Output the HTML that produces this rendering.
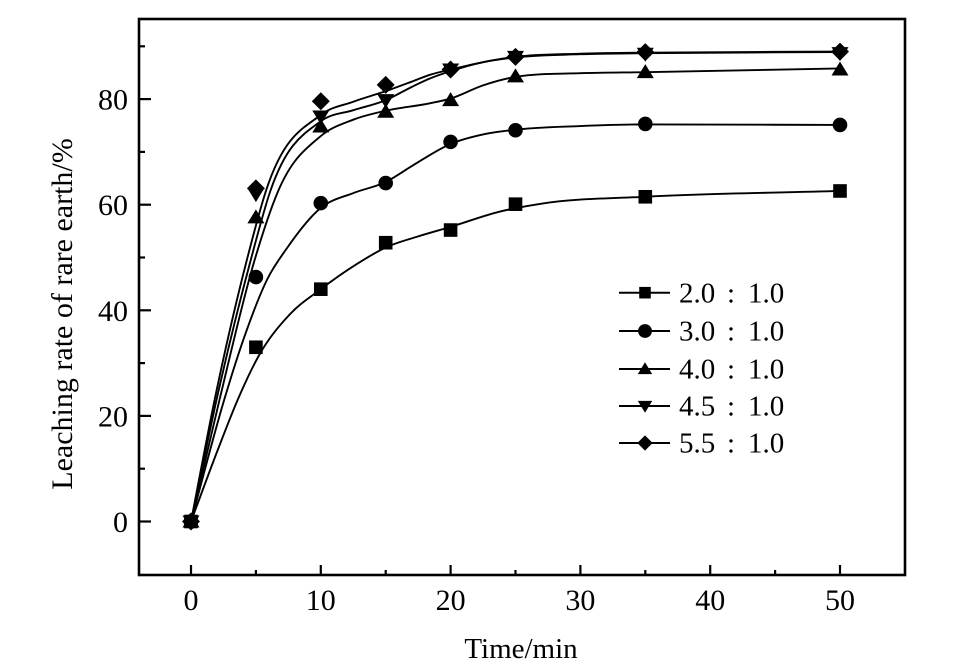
<!DOCTYPE html>
<html><head><meta charset="utf-8"><style>html,body{margin:0;padding:0;background:#fff}svg{display:block}</style></head>
<body>
<svg id="s" width="967" height="667" viewBox="0 0 967 667" xmlns="http://www.w3.org/2000/svg" font-family="'Liberation Serif', 'Times New Roman', serif">
<rect width="967" height="667" fill="#fff"/>
<g id="ticks" stroke="#000" stroke-width="2.2"></g>
<g id="labels" font-size="30" fill="#000"></g>
<text x="521" y="658" font-size="29" text-anchor="middle" fill="#000">Time/min</text>
<text transform="translate(72,314) rotate(-90)" font-size="30" text-anchor="middle" fill="#000">Leaching rate of rare earth/%</text>
<g id="curves" fill="none" stroke="#000" stroke-width="1.9" stroke-linejoin="round"></g>
<g id="marks" fill="#000"></g>
<rect x="139" y="19" width="766" height="556" fill="none" stroke="#000" stroke-width="2.6"/>
<g id="legend" font-size="29" fill="#000"></g>
</svg>
<script>
(function(){
var NS="http://www.w3.org/2000/svg";
function X(x){return 191+x*12.98;}
function Y(v){return 521.5-v*5.28;}
function el(tag,attrs,parent,txt){var e=document.createElementNS(NS,tag);for(var k in attrs)e.setAttribute(k,attrs[k]);if(txt!==undefined)e.textContent=txt;parent.appendChild(e);return e;}
var ticks=document.getElementById('ticks'),labels=document.getElementById('labels');
for(var v=0;v<=90;v+=10){var y=Y(v);var major=(v%20===0);el('line',{x1:139,y1:y,x2:major?151:145,y2:y},ticks);
 if(major){el('text',{x:128,y:y+10.5,'text-anchor':'end'},labels,String(v));}}
for(var t=0;t<=50;t+=5){var x=X(t);var major=(t%10===0);el('line',{x1:x,y1:575,x2:x,y2:major?565:570},ticks);
 if(major){el('text',{x:x,y:610,'text-anchor':'middle'},labels,String(t));}}
function herm(pts){
 var n=pts.length,h=[],d=[],m=[];
 for(var i=0;i<n-1;i++){h[i]=pts[i+1][0]-pts[i][0];d[i]=(pts[i+1][1]-pts[i][1])/h[i];}
 m[0]=d[0];m[n-1]=d[n-2];
 for(var i=1;i<n-1;i++){
  if(d[i-1]*d[i]<=0){m[i]=0;}
  else{m[i]=(h[i]*d[i-1]+h[i-1]*d[i])/(h[i-1]+h[i]);}
 }
 for(var i=0;i<n-1;i++){
  if(d[i]===0){m[i]=0;m[i+1]=0;continue;}
  var a=m[i]/d[i],b=m[i+1]/d[i],s=a*a+b*b;
  if(s>9){var tt=3/Math.sqrt(s);m[i]=tt*a*d[i];m[i+1]=tt*b*d[i];}
 }
 var f=function(x,y){return X(x).toFixed(2)+','+Y(y).toFixed(2);};
 var dstr='M'+f(pts[0][0],pts[0][1]);
 for(var i=0;i<n-1;i++){
  var x0=pts[i][0],y0=pts[i][1],x1=pts[i+1][0],y1=pts[i+1][1],hh=h[i];
  dstr+=' C'+f(x0+hh/3,y0+m[i]*hh/3)+' '+f(x1-hh/3,y1-m[i+1]*hh/3)+' '+f(x1,y1);
 }
 return dstr;
}
var curves={
 S:[[0,0],[2.1,13.8],[3.64,23.3],[5.2,31.3],[7.6,39.2],[10,44],[12.8,48.8],[15,51.9],[17.5,54],[20,55.8],[23.8,58.7],[27,60.2],[35,61.5],[50,62.6]],
 C:[[0,0],[2.6,23.4],[4.03,34.4],[5.9,46],[7.4,51.8],[10,59.4],[12.5,62.2],[15,64.3],[17,67.3],[20,71.5],[22.5,73.3],[25,74.2],[30,74.9],[35,75.2],[50,75.1]],
 T:[[0,0],[2.23,23.4],[4.9,49.5],[6.7,62.5],[10,73],[12.5,76.1],[15,77.8],[18.4,79.2],[20,80.1],[22.5,82.6],[25,84.2],[30,84.9],[35,85.1],[50,85.8]],
 V:[[0,0],[2.0,23.4],[4.6,49.5],[6.1,62.5],[10,75.8],[12.5,77.9],[15,79.8],[17,82.3],[18.4,83.9],[20,85.3],[22.5,87],[25,87.9],[30,88.5],[35,88.7],[50,88.9]],
 D:[[0,0],[1.85,23.4],[4.3,49.5],[5.8,62.8],[10,77],[12.5,79.5],[15,81.5],[17,83.3],[18.4,84.6],[20,85.6],[22.5,87],[25,88],[30,88.6],[35,88.8],[50,89]]
};
var cg=document.getElementById('curves');
['S','C','T','V','D'].forEach(function(k){el('path',{d:herm(curves[k])},cg);});
var marks={
 S:[[0,0],[5,33],[10,44],[15,52.8],[20,55.2],[25,60.1],[35,61.5],[50,62.6]],
 C:[[0,0],[5,46.3],[10,60.3],[15,64.1],[20,71.9],[25,74.1],[35,75.3],[50,75.1]],
 T:[[0,0],[5,57.6],[10,74.8],[15,77.6],[20,79.8],[25,84.3],[35,85.1],[50,85.6]],
 V:[[0,0],[5,62],[10,76.7],[15,79.8],[20,85.6],[25,88],[35,88.6],[50,88.7]],
 D:[[0,0],[5,63.1],[10,79.6],[15,82.7],[20,85.6],[25,88],[35,88.9],[50,89]]
};
function marker(k,x,y,g){
 if(k==='S')el('rect',{x:x-6.8,y:y-6.8,width:13.6,height:13.6},g);
 else if(k==='C')el('circle',{cx:x,cy:y,r:7.3},g);
 else if(k==='T')el('polygon',{points:(x-8.5)+','+(y+6)+' '+(x+8.5)+','+(y+6)+' '+x+','+(y-8)},g);
 else if(k==='V')el('polygon',{points:(x-8.5)+','+(y-6)+' '+(x+8.5)+','+(y-6)+' '+x+','+(y+8)},g);
 else if(k==='D')el('polygon',{points:x+','+(y-9)+' '+(x+9)+','+y+' '+x+','+(y+9)+' '+(x-9)+','+y},g);
}
var mg=document.getElementById('marks');
['S','C','T','V','D'].forEach(function(k){marks[k].forEach(function(p){marker(k,X(p[0]),Y(p[1]),mg);});});
var lg=document.getElementById('legend');
var rows=[['S','2.0'],['C','3.0'],['T','4.0'],['V','4.5'],['D','5.5']];
var cys=[292.7,331,369,406,443];
rows.forEach(function(r,i){var cy=cys[i];
 el('line',{x1:619,y1:cy,x2:670,y2:cy,stroke:'#000','stroke-width':2},lg);
 var s=(r[0]==='C')?0.95:0.85;
 var g=el('g',{transform:'translate(645,'+cy+') scale('+s+') translate(-645,'+(-cy)+')'},lg);
 marker(r[0],645,cy,g);
 el('text',{x:679,y:cy+9.6},lg,r[1]);
 el('text',{x:731,y:cy+9.6,'text-anchor':'middle'},lg,':');
 el('text',{x:748,y:cy+9.6},lg,'1.0');
});
})();
</script>
</body></html>
